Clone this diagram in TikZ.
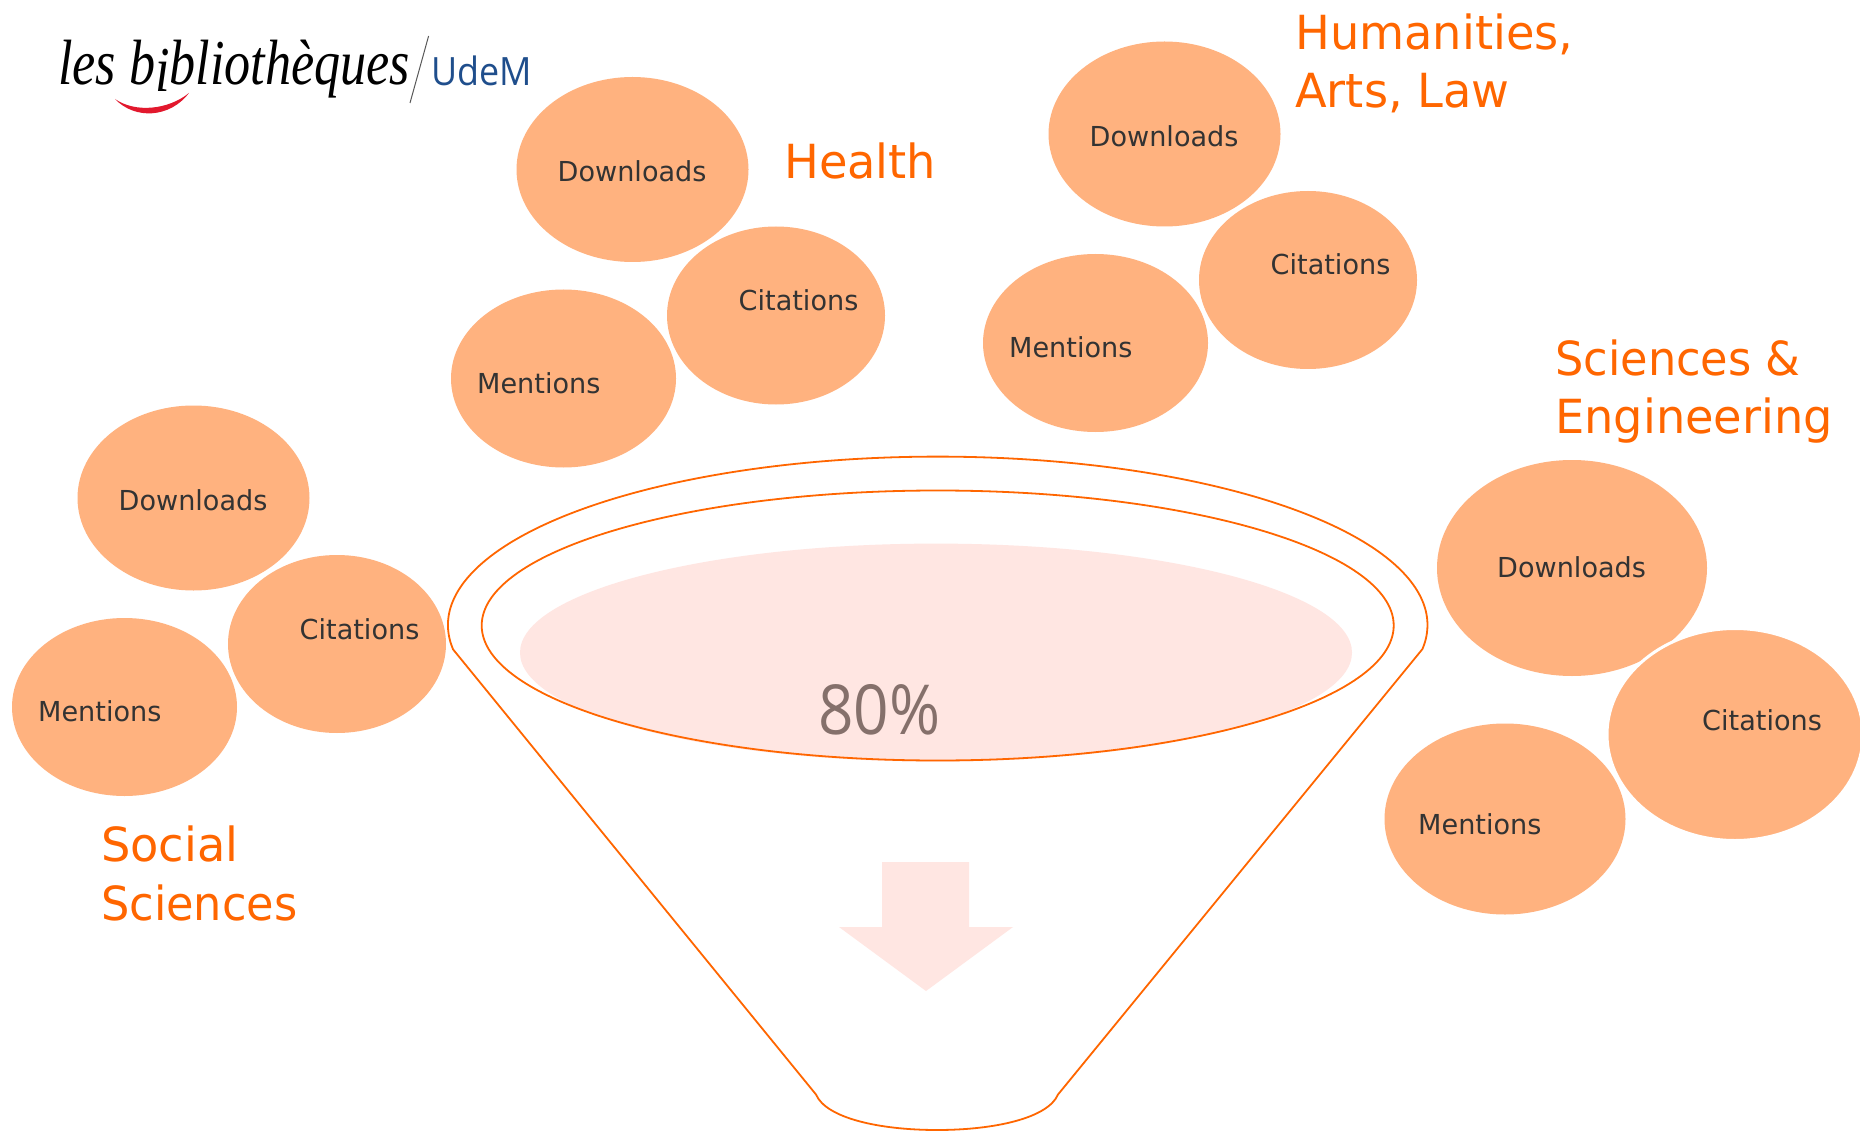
\documentclass[tikz,border=0pt]{standalone}
\usepackage{fontspec}
\usetikzlibrary{shapes.geometric}
\setmainfont{DejaVu Sans}
\newfontfamily\lblfont[FakeStretch=0.985]{DejaVu Sans}
\newfontfamily\tightfont[FakeStretch=0.95]{DejaVu Sans}
\newfontfamily\pctfont[FakeStretch=0.9]{Open Sans}
\newfontfamily\logofont[FakeStretch=0.815]{Liberation Serif}
\newfontfamily\udemfont[FakeStretch=0.92]{Open Sans}
\definecolor{blob}{HTML}{FFB27F}
\definecolor{funnel}{HTML}{FF6600}
\definecolor{pale}{HTML}{FFE6E2}
\definecolor{ink}{HTML}{333333}
\definecolor{pct}{HTML}{85706B}
\definecolor{udem}{HTML}{1F4E8C}
\definecolor{smile}{HTML}{E2182D}
\tikzset{
  blob/.style={ellipse,fill=blob,inner sep=0pt,outer sep=0pt},
  blobhalo/.style={blob,draw=white,line width=3pt},
  lbl/.style={anchor=base west,inner sep=0pt,text=ink,font=\lblfont\fontsize{27.5}{30}\selectfont},
  head/.style={anchor=base west,inner sep=0pt,text=funnel,font=\lblfont\fontsize{47}{58}\selectfont},
  headtight/.style={head,font=\tightfont\fontsize{47}{58}\selectfont},
  rim/.style={draw=funnel,line width=1.8pt},
  dl/.style={blob,minimum width=232pt,minimum height=185pt},
  ci/.style={blob,minimum width=218pt,minimum height=178pt},
  me/.style={blob,minimum width=225pt,minimum height=178pt}
}
\newcommand{\trio}[3]{%
  \begin{scope}[shift={(#2,#3)}]
    \node[dl] (#1dl) at (193.5,498) {};
    \node[me] (#1me) at (124.5,707) {};
    \node[ci] (#1ci) at (337,644) {};
    \node[lbl] (#1dlt) at (118.5,510.5) {Downloads};
    \node[lbl] (#1cit) at (299.5,639) {Citations};
    \node[lbl] (#1met) at (38,721.5) {Mentions};
  \end{scope}}
\begin{document}
\begin{tikzpicture}[x=1pt,y=-1pt]
\useasboundingbox[fill=white] (0,0) rectangle (1860,1131);
% logo
\node[anchor=base west,inner sep=0pt,font=\logofont\itshape\fontsize{64}{64}\selectfont] (logotext) at (58,85) {les b\raisebox{-7pt}{i}bliothèques};
\fill[smile] (115,99) .. controls (135,120) and (170,118) .. (189,93) .. controls (168,110) and (135,113) .. (115,99) -- cycle;
\draw[gray!70!black,line width=1pt] (428.6,36) -- (410,103);
\node[anchor=base west,inner sep=0pt,text=udem,font=\udemfont\fontsize{39}{39}\selectfont] (udemtext) at (431,86) {UdeM};
% blobs
\trio{soc}{0}{0}
\trio{hea}{439}{-328.5}
\trio{hum}{971}{-364}
\node[blob,minimum width=270pt,minimum height=216pt] (scidl) at (1572,568) {};
\node[blob,minimum width=241pt,minimum height=191pt] (scime) at (1505,819) {};
\node[blobhalo,minimum width=256pt,minimum height=212pt] (scici) at (1735,734.5) {};
\node[lbl] (scidlt) at (1497,577) {Downloads};
\node[lbl] (scicit) at (1702,730) {Citations};
\node[lbl] (scimet) at (1418,834) {Mentions};
% headings
\node[head] (hhea) at (784,178.5) {Health};
\node[head] (hhum1) at (1295,49.5) {Humanities,};
\node[head] (hhum2) at (1295,107.5) {Arts, Law};
\node[headtight] (hsci1) at (1555,375.5) {Sciences \&};
\node[head] (hsci2) at (1555,433.5) {Engineering};
\node[head] (hsoc1) at (101,861.5) {Social};
\node[headtight] (hsoc2) at (101,920) {Sciences};
% funnel
\node[ellipse,fill=pale,inner sep=0pt,minimum width=832pt,minimum height=218pt] (liquid) at (936,652.6) {};
\draw[rim,line join=round] (816,1094.5) -- (453,649.3)
  -- plot[domain=171.8:368.2,samples=90,smooth] ({937.7+489.8*cos(\x)},{625+168.4*sin(\x)})
  -- (1058,1094.5)
  .. controls (1048,1118) and (995,1130) .. (937,1130)
  .. controls (879,1130) and (826,1118) .. (816,1094.5) -- cycle;
\node[ellipse,rim,inner sep=0pt,minimum width=912pt,minimum height=270pt] (rimin) at (937.7,625.5) {};
\fill[pale] (882,862) -- (969,862) -- (969,927) -- (1013,927) -- (926,991) -- (839,927) -- (882,927) -- cycle;
\node[anchor=base west,inner sep=0pt,text=pct,font=\pctfont\fontsize{69}{69}\selectfont] (pcttext) at (818,734.5) {80\%};
\end{tikzpicture}
\end{document}
